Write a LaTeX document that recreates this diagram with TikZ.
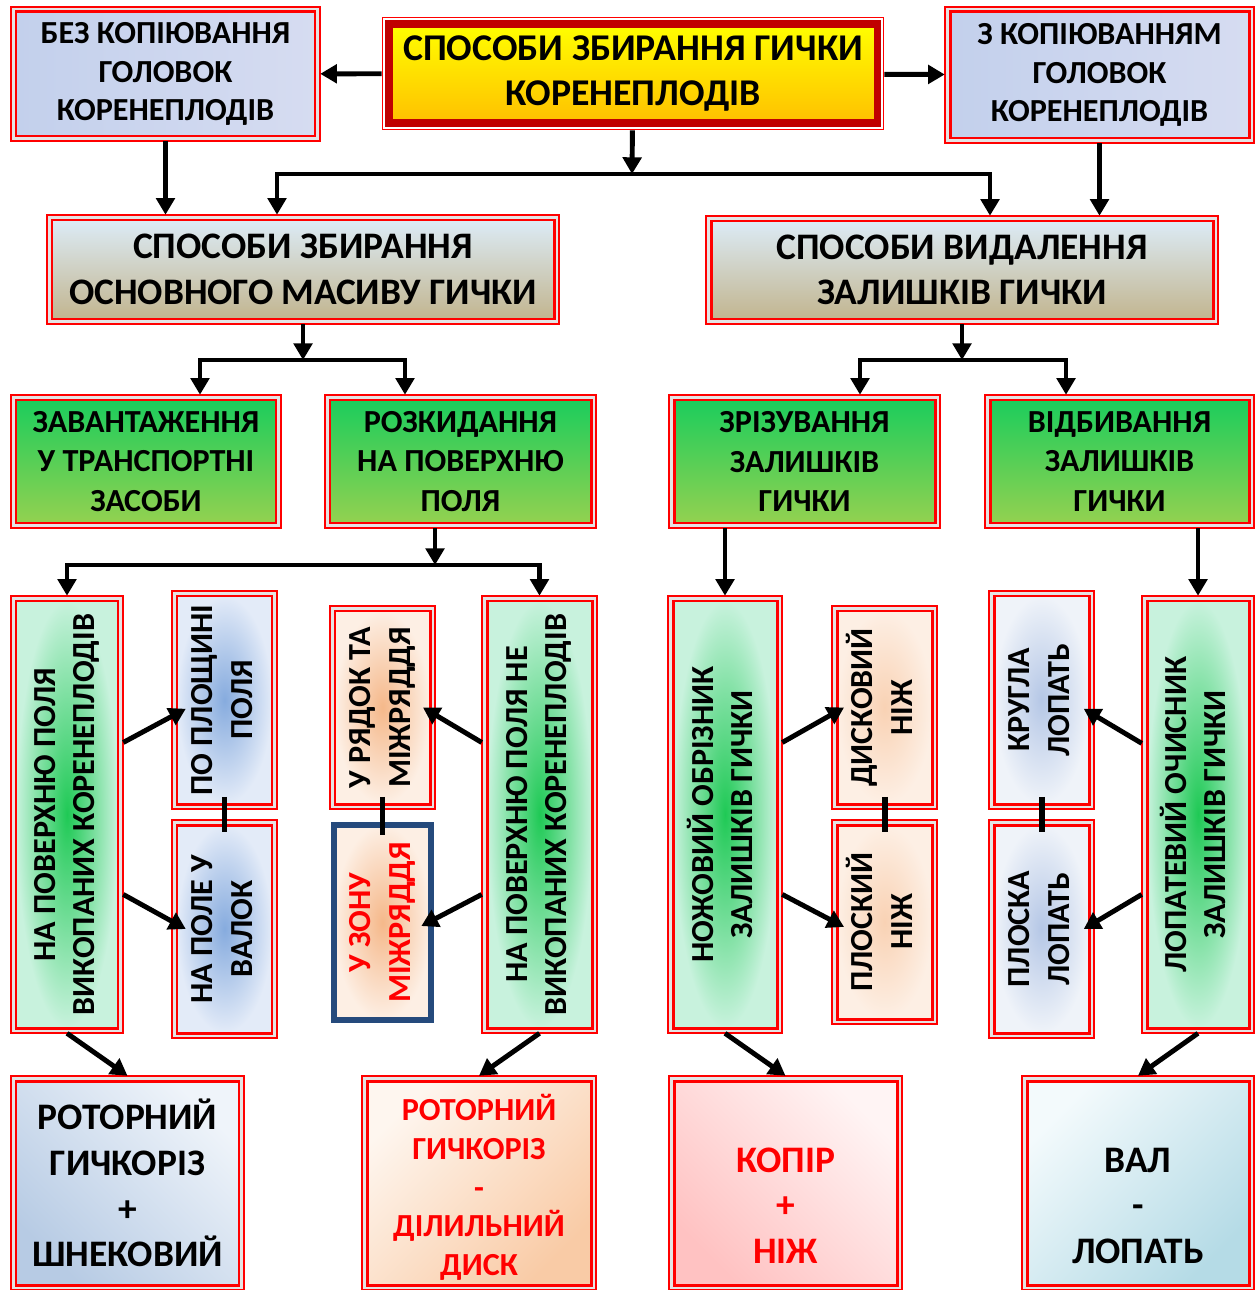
\documentclass[tikz,border=0pt]{standalone}
\usepackage{fontspec}
\setmainfont{Carlito}
\usepackage{graphicx}
\usetikzlibrary{arrows.meta}

\definecolor{titlered}{HTML}{C00000}
\definecolor{titleorange}{HTML}{FFC000}
\definecolor{gapgray}{HTML}{E4E4E4}
\definecolor{lilacA}{HTML}{C3D0EC}
\definecolor{lilacB}{HTML}{D6DCF1}
\definecolor{skytop}{HTML}{DCEBF6}
\definecolor{tanbot}{HTML}{C2B58F}
\definecolor{greentop}{HTML}{1CCD5C}
\definecolor{greenbot}{HTML}{93D150}
\definecolor{glowgreen}{HTML}{1FC955}
\definecolor{mint}{HTML}{C8F2DD}
\definecolor{glowblue}{HTML}{86ABDE}
\definecolor{paleblue}{HTML}{E3EBF8}
\definecolor{glowpeach}{HTML}{F5B88A}
\definecolor{palepeach}{HTML}{FDEFE4}
\definecolor{softpeach}{HTML}{F9D2B4}
\definecolor{glowgrey}{HTML}{B5C7E6}
\definecolor{palegrey}{HTML}{EFF3F9}
\definecolor{zoneblue}{HTML}{254A7C}
\definecolor{rotA}{HTML}{B7CBE4}
\definecolor{rotB}{HTML}{EFF4FA}
\definecolor{diskA}{HTML}{FEF6EF}
\definecolor{diskB}{HTML}{F9CBA6}
\definecolor{kopA}{HTML}{FFC2C2}
\definecolor{kopB}{HTML}{FFF4F4}
\definecolor{valA}{HTML}{F3FAFC}
\definecolor{valB}{HTML}{B5DBE6}

% one pixel of the sheet
\newcommand{\pw}{0.02cm}
% rotated two-line label for the tall boxes
\newcommand{\vlab}[1]{\rotatebox{90}{\begin{tabular}{@{}c@{}}#1\end{tabular}}}

\tikzset{
	redframe/.style={rectangle, inner sep=0pt, outer sep=3pt, draw=red, line width=1.7pt,
		preaction={draw=red, line width=6.5pt}, preaction={draw=gapgray, line width=5pt}, align=center},
	size/.style 2 args={minimum width=#1*\pw, minimum height=#2*\pw},
	smalltxt/.style={font=\bfseries\fontsize{18.3}{22}\selectfont},
	vtxt/.style={font=\bfseries\fontsize{18.3}{22.7}\selectfont},
	bigtxt/.style={font=\bfseries\fontsize{21.3}{26}\selectfont},
	titlebox/.style={rectangle, inner sep=0pt, outer sep=4.2pt, draw=titlered, line width=4pt,
		preaction={draw=red, line width=8.4pt}, preaction={draw=white, line width=7pt},
		top color=yellow, bottom color=titleorange, align=center,
		font=\bfseries\fontsize{21.5}{25.5}\selectfont},
	topbox/.style={redframe, smalltxt, left color=lilacA, right color=lilacB},
	midbox/.style={redframe, bigtxt, top color=skytop, bottom color=tanbot},
	greenbox/.style={redframe, font=\bfseries\fontsize{18.3}{22.4}\selectfont, top color=greentop, bottom color=greenbot},
	tallbox/.style={redframe, smalltxt, inner color=glowgreen, outer color=mint},
	bluebox/.style={redframe, vtxt, inner color=glowblue, outer color=paleblue},
	peachbox/.style={redframe, vtxt, inner color=glowpeach, outer color=palepeach},
	softbox/.style={redframe, vtxt, inner color=softpeach, outer color=palepeach},
	greybox/.style={redframe, vtxt, inner color=glowgrey, outer color=palegrey},
	zonebox/.style={rectangle, inner sep=0pt, draw=zoneblue, line width=3pt, inner color=glowpeach, outer color=palepeach,
		text=red, align=center, vtxt},
	arr/.style={-{Triangle[length=9.5pt,width=10.5pt]}, line width=2.8pt},
	link/.style={line width=3.4pt}
}

\begin{document}
\begin{tikzpicture}[x={(0.02cm,0)}, y={(0,-0.02cm)}]
	\clip (0,0) rectangle (1255,1290);
	
	% top row
	\node[titlebox, size={488}{99}] (title) at (633,73.5) {СПОСОБИ ЗБИРАННЯ ГИЧКИ\\КОРЕНЕПЛОДІВ};
	\node[topbox, size={299}{124}] (bez) at (165.5,74) {БЕЗ КОПІЮВАННЯ\\ГОЛОВОК\\КОРЕНЕПЛОДІВ};
	\node[topbox, size={299}{126}] (zkop) at (1099.5,75) {З КОПІЮВАННЯМ\\ГОЛОВОК\\КОРЕНЕПЛОДІВ};
	
	\node[midbox, size={502}{99}] (osn) at (303,269.5) {СПОСОБИ ЗБИРАННЯ\\ОСНОВНОГО МАСИВУ ГИЧКИ};
	\node[midbox, size={502}{98}] (vyd) at (962,270) {СПОСОБИ ВИДАЛЕННЯ\\ЗАЛИШКІВ ГИЧКИ};
	
	\node[greenbox, size={260}{123}] (zav) at (146,461.5) {ЗАВАНТАЖЕННЯ\\У ТРАНСПОРТНІ\\ЗАСОБИ};
	\node[greenbox, size={261}{123}] (rozk) at (460.5,461.5) {РОЗКИДАННЯ\\НА ПОВЕРХНЮ\\ПОЛЯ};
	\node[greenbox, size={261}{123}] (zriz) at (804.5,461.5) {ЗРІЗУВАННЯ\\ЗАЛИШКІВ\\ГИЧКИ};
	\node[greenbox, size={259}{123}] (vidb) at (1119.5,461.5) {ВІДБИВАННЯ\\ЗАЛИШКІВ\\ГИЧКИ};
	
	% tall boxes
	\node[tallbox, size={102}{427}] (vykop) at (67,814.5) {\vlab{НА ПОВЕРХНЮ ПОЛЯ\\ВИКОПАНИХ КОРЕНЕПЛОДІВ}};
	\node[bluebox, size={95}{208}] (plosh) at (224.5,700) {\vlab{ПО ПЛОЩИНІ\\ПОЛЯ}};
	\node[bluebox, size={95}{208}] (valok) at (224.5,929) {\vlab{НА ПОЛЕ У\\ВАЛОК}};
	\node[peachbox, size={95}{193}] (ryad) at (382.5,707.5) {\vlab{У РЯДОК ТА\\МІЖРЯДДЯ}};
	\node[zonebox, size={97}{195}] (zona) at (382.5,922.5) {\vlab{У ЗОНУ\\МІЖРЯДДЯ}};
	\node[tallbox, size={105}{427}] (nevykop) at (539.5,814.5) {\vlab{НА ПОВЕРХНЮ ПОЛЯ НЕ\\ВИКОПАНИХ КОРЕНЕПЛОДІВ}};
	\node[tallbox, size={104}{427}] (nozh) at (725,814.5) {\vlab{НОЖОВИЙ ОБРІЗНИК\\ЗАЛИШКІВ ГИЧКИ}};
	\node[softbox, size={95}{193}] (dysk) at (884.5,707.5) {\vlab{ДИСКОВИЙ\\НІЖ}};
	\node[softbox, size={95}{194}] (plnizh) at (884.5,922) {\vlab{ПЛОСКИЙ\\НІЖ}};
	\node[greybox, size={95}{208}] (krug) at (1041.5,700) {\vlab{КРУГЛА\\ЛОПАТЬ}};
	\node[greybox, size={95}{208}] (plos) at (1041.5,929) {\vlab{ПЛОСКА\\ЛОПАТЬ}};
	\node[tallbox, size={102}{427}] (lopat) at (1198,814.5) {\vlab{ЛОПАТЕВИЙ ОЧИСНИК\\ЗАЛИШКІВ ГИЧКИ}};
	
	% bottom row
	\node[redframe, bigtxt, left color=rotA, right color=rotB, shading angle=135, size={223}{204}] (rotor) at (127.5,1183) {РОТОРНИЙ\\ГИЧКОРІЗ\\+\\ШНЕКОВИЙ};
	\node[redframe, smalltxt, text=red, left color=diskA, right color=diskB, shading angle=45, size={224}{204}] (rdisk) at (479,1183) {\rule{0pt}{20pt}РОТОРНИЙ\\ГИЧКОРІЗ\\-\\ДІЛИЛЬНИЙ\\ДИСК};
	\node[redframe, bigtxt, text=red, left color=kopA, right color=kopB, shading angle=135, size={223}{204}] (kopir) at (785.5,1183) {\vphantom{НІЖ}\\КОПІР\\+\\НІЖ};
	\node[redframe, bigtxt, left color=valA, right color=valB, shading angle=45, size={222}{204}] (val) at (1138,1183) {\vphantom{ВАЛ}\\ВАЛ\\-\\ЛОПАТЬ};
	
	% fork points
	\coordinate (f1) at (632,174);
	\coordinate (f1l) at (277,174);
	\coordinate (f1r) at (990,174);
	\coordinate (f2) at (303,360);
	\coordinate (f2l) at (200,360);
	\coordinate (f2r) at (405,360);
	\coordinate (f3) at (962,360);
	\coordinate (f3l) at (860,360);
	\coordinate (f3r) at (1066,360);
	\coordinate (f4) at (435,565);
	
	\draw[arr] (title) -- (bez);
	\draw[arr] (title) -- (zkop);
	\draw[arr] (bez) -- (bez.south |- osn.north);
	\draw[arr] (zkop) -- (zkop.south |- vyd.north);
	\draw[arr] (title) -- (f1);
	\draw[arr] (f1) -| (f1l |- osn.north);
	\draw[arr] (f1) -| (f1r |- vyd.north);
	
	\draw[arr] (osn) -- (f2);
	\draw[arr] (f2) -| (f2l |- zav.north);
	\draw[arr] (f2) -| (f2r |- rozk.north);
	\draw[arr] (vyd) -- (f3);
	\draw[arr] (f3) -| (f3l |- zriz.north);
	\draw[arr] (f3) -| (f3r |- vidb.north);
	
	\draw[arr] (f4 |- rozk.south) -- (f4);
	\draw[arr] (f4) -| (vykop.north);
	\draw[arr] (f4) -| (nevykop.north);
	\draw[arr] (nozh.north |- zriz.south) -- (nozh.north);
	\draw[arr] (lopat.north |- vidb.south) -- (lopat.north);
	
	\draw[arr] ([yshift=41pt]vykop.east) -- ([xshift=8pt,yshift=-5pt]plosh.west);
	\draw[arr] ([yshift=-45.5pt]vykop.east) -- ([xshift=8pt]valok.west);
	\draw[arr] ([yshift=41pt]nevykop.west) -- ([xshift=-7pt]ryad.east);
	\draw[arr] ([yshift=-45.5pt]nevykop.west) -- ([xshift=-7pt,yshift=-2pt]zona.east);
	\draw[arr] ([yshift=41pt]nozh.east) -- ([xshift=7pt]dysk.west);
	\draw[arr] ([yshift=-45.5pt]nozh.east) -- ([xshift=7pt,yshift=-2.8pt]plnizh.west);
	\draw[arr] ([yshift=40.5pt]lopat.west) -- ([xshift=-6pt,yshift=-5pt]krug.east);
	\draw[arr] ([yshift=-45.5pt]lopat.west) -- ([xshift=-6pt]plos.east);
	
	\draw[link] ([yshift=7pt]plosh.south) -- ([yshift=-7pt]valok.north);
	\draw[link] ([yshift=7pt]ryad.south) -- ([yshift=-7pt]zona.north);
	\draw[link] ([yshift=7pt]dysk.south) -- ([yshift=-7pt]plnizh.north);
	\draw[link] ([yshift=7pt]krug.south) -- ([yshift=-7pt]plos.north);
	
	\draw[arr] (vykop.south) -- (rotor.north);
	\draw[arr] (nevykop.south) -- (rdisk.north);
	\draw[arr] (nozh.south) -- (kopir.north);
	\draw[arr] (lopat.south) -- (val.north);
	
\end{tikzpicture}
\end{document}
